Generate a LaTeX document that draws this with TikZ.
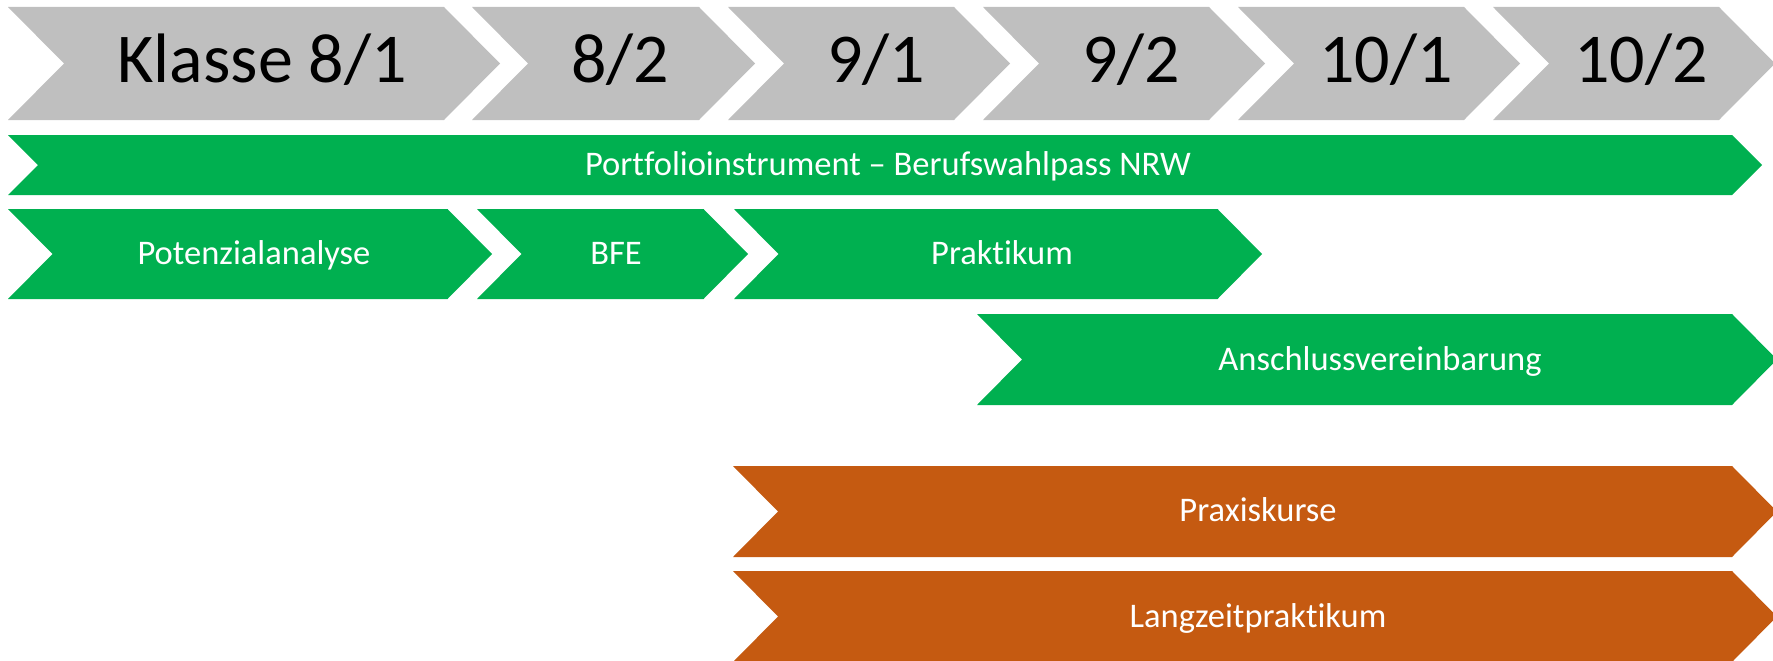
\documentclass[tikz,border=0pt]{standalone}
\usepackage{fontspec}
\setmainfont{Carlito}[Ligatures=NoCommon]
\definecolor{grayband}{HTML}{BFBFBF}
\definecolor{greenband}{HTML}{00B050}
\definecolor{orangeband}{HTML}{C55A11}
\newcommand{\chevshape}[6]{% left, tip, top, bottom, depth, color
  \fill[#6] (#1,#3) -- ({#2-#5},#3) -- (#2,{(#3+#4)/2}) -- ({#2-#5},#4) -- (#1,#4) -- ({#1+#5},{(#3+#4)/2}) -- cycle;}
\tikzset{
  biglabel/.style={anchor=base, inner sep=0pt, text=black, font=\fontsize{70}{84}\selectfont},
  smalllabel/.style={anchor=base, inner sep=0pt, text=white, font=\fontsize{34.5}{40}\selectfont},
}
\begin{document}
\begin{tikzpicture}[x=1pt,y=-1pt]
\useasboundingbox (0,0) rectangle (1773,661);
\clip (0,0) rectangle (1773,661);
% grey header chevrons
\chevshape{8}{500}{7}{120}{56}{grayband}
\chevshape{472}{755}{7}{120}{56}{grayband}
\chevshape{728}{1010}{7}{120}{56}{grayband}
\chevshape{983}{1265}{7}{120}{56}{grayband}
\chevshape{1238}{1520}{7}{120}{56}{grayband}
\chevshape{1493}{1775}{7}{120}{56}{grayband}
\node[biglabel] (k81) at (262,83) {Klasse 8/1};
\node[biglabel] (k82) at (620,83) {8/2};
\node[biglabel] (k91) at (876,83) {9/1};
\node[biglabel] (k92) at (1131,83) {9/2};
\node[biglabel] (k101) at (1386,83) {10/1};
\node[biglabel] (k102) at (1641,83) {10/2};
% portfolio band
\chevshape{8}{1762}{135}{195}{30}{greenband}
\node[smalllabel] (port) at (888,175) {Portfolioinstrument – Berufswahlpass NRW};
% second row
\chevshape{8}{492}{209}{299}{44.5}{greenband}
\chevshape{477}{748}{209}{299}{44.5}{greenband}
\chevshape{734}{1262}{209}{299}{44.5}{greenband}
\node[smalllabel] (pot) at (254,264) {Potenzialanalyse};
\node[smalllabel] (bfe) at (616,264) {BFE};
\node[smalllabel] (prak) at (1002,264) {Praktikum};
% Anschlussvereinbarung
\chevshape{977}{1777}{314}{405}{45}{greenband}
\node[smalllabel] (ansch) at (1380,370) {Anschlussvereinbarung};
% orange bands
\chevshape{733}{1777}{466}{557}{45}{orangeband}
\node[smalllabel] (praxis) at (1258,521) {Praxiskurse};
\chevshape{733}{1777}{571}{662}{45}{orangeband}
\node[smalllabel] (lzp) at (1258,627) {Langzeitpraktikum};
\end{tikzpicture}
\end{document}
